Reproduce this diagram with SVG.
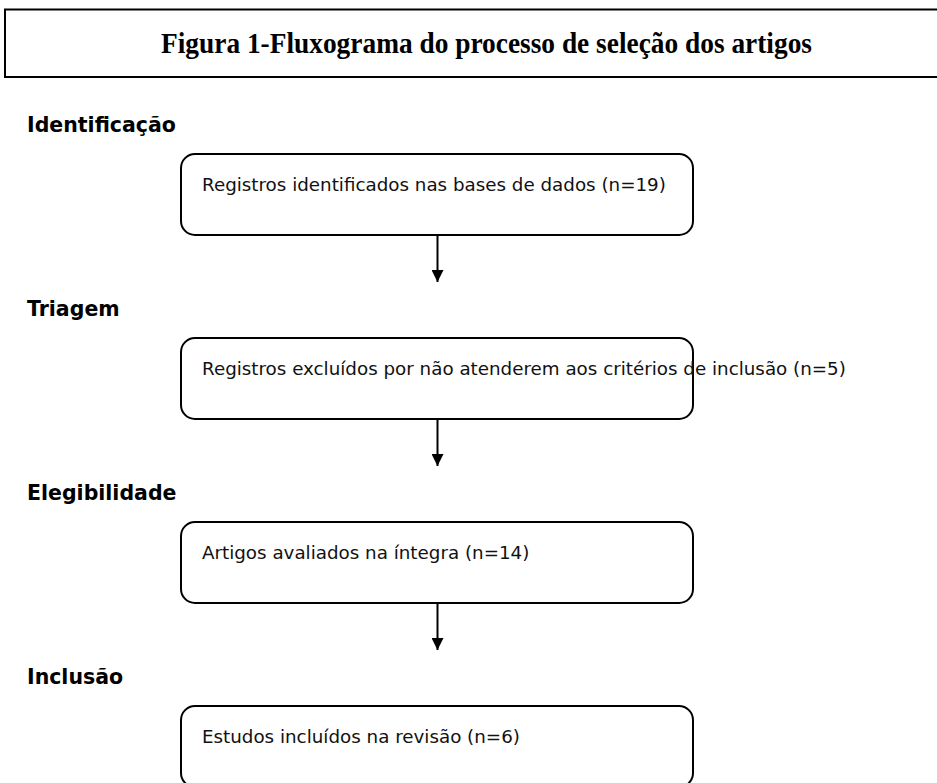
<svg xmlns="http://www.w3.org/2000/svg" width="937" height="783" viewBox="0 0 937 783">
<defs>
<style>
.title{font-family:"Liberation Serif","Times New Roman",serif;font-weight:bold;font-size:28.5px;fill:#000}
.stage{font-family:"DejaVu Sans",sans-serif;font-weight:bold;font-size:20.5px;fill:#000}
.txt{font-family:"DejaVu Sans",sans-serif;font-size:18.3px;fill:#111}
.box{fill:#fff;stroke:#000;stroke-width:2}
.conn{stroke:#000;stroke-width:2;fill:none}
</style>
<marker id="ah" markerWidth="12" markerHeight="12" viewBox="0 0 12 12" refX="12" refY="6" orient="auto" markerUnits="userSpaceOnUse">
<path d="M0,0 L12,6 L0,12 z" fill="#000"/>
</marker>
</defs>
<rect width="937" height="783" fill="#fff"/>
<g id="title">
<rect x="5" y="9.5" width="960" height="67.5" fill="none" stroke="#000" stroke-width="2"/>
<text class="title" x="161" y="53" textLength="651" lengthAdjust="spacingAndGlyphs">Figura 1-Fluxograma do processo de seleção dos artigos</text>
</g>
<g id="lbl-identificacao"><text class="stage" x="27" y="131.5">Identificação</text></g>
<g id="lbl-triagem"><text class="stage" x="27" y="315.5">Triagem</text></g>
<g id="lbl-elegibilidade"><text class="stage" x="27" y="499.5">Elegibilidade</text></g>
<g id="lbl-inclusao"><text class="stage" x="27" y="683.5">Inclusão</text></g>
<g id="n1"><rect class="box" x="181" y="154" width="512" height="81" rx="14"/><text class="txt" x="202" y="191">Registros identificados nas bases de dados (n=19)</text></g>
<g id="n2"><rect class="box" x="181" y="338" width="512" height="81" rx="14"/><text class="txt" x="202" y="375">Registros excluídos por não atenderem aos critérios de inclusão (n=5)</text></g>
<g id="n3"><rect class="box" x="181" y="522" width="512" height="81" rx="14"/><text class="txt" x="202" y="559">Artigos avaliados na íntegra (n=14)</text></g>
<g id="n4"><rect class="box" x="181" y="706" width="512" height="81" rx="14"/><text class="txt" x="202" y="743">Estudos incluídos na revisão (n=6)</text></g>
<g id="connectors">
<line class="conn" x1="437.5" y1="235" x2="437.5" y2="282" marker-end="url(#ah)"/>
<line class="conn" x1="437.5" y1="419" x2="437.5" y2="466" marker-end="url(#ah)"/>
<line class="conn" x1="437.5" y1="603" x2="437.5" y2="650" marker-end="url(#ah)"/>
</g>
</svg>
